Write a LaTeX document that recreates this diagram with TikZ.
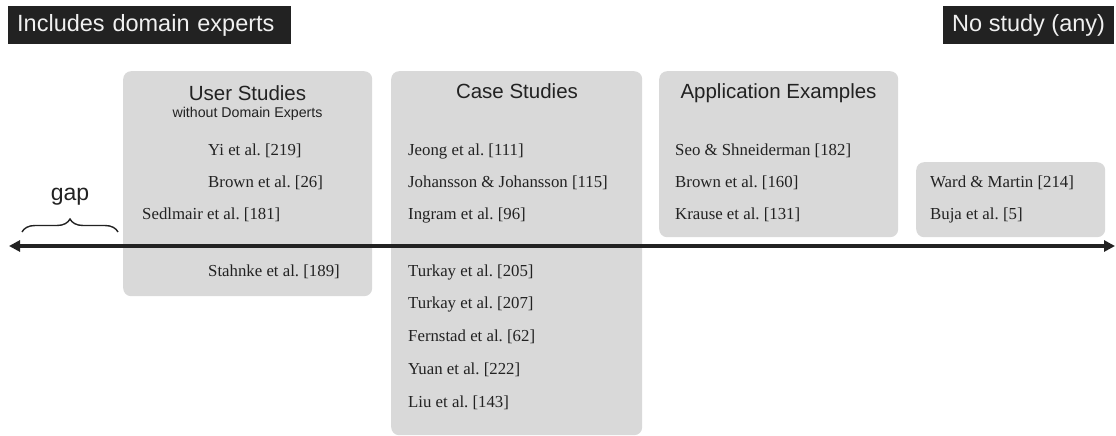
\documentclass[tikz,border=0pt]{standalone}
\usepackage{fontspec}
\setmainfont{Liberation Serif}
\newfontfamily\headfont{Liberation Sans}
\usetikzlibrary{arrows.meta,decorations.pathreplacing}
\frenchspacing

\definecolor{boxgray}{HTML}{D9D9D9}
\definecolor{ink}{HTML}{222222}
\definecolor{paper}{HTML}{F0F0F0}

\begin{document}
\begin{tikzpicture}[x=1pt,y=-1pt,
  group/.style={fill=boxgray, rounded corners=8pt, draw=none, anchor=north west, inner sep=0pt},
  head/.style={font=\headfont\fontsize{20.5}{24}\selectfont, text=ink, anchor=base, inner sep=0pt},
  subhead/.style={font=\headfont\fontsize{14.2}{17}\selectfont, text=ink, anchor=base, inner sep=0pt},
  ref/.style={font=\fontsize{16.8}{20}\selectfont, text=ink, anchor=base west, inner sep=0pt},
  tag/.style={fill=ink, text=paper, font=\headfont\fontsize{23.5}{28}\selectfont,
    anchor=north west, minimum height=38pt, inner ysep=0pt, inner xsep=9pt},
  axis/.style={draw=ink, line width=3.5pt,
    {Triangle[length=11pt,width=11pt]}-{Triangle[length=11pt,width=11pt]}},
  bracket/.style={draw=ink, line width=1.4pt,
    decorate, decoration={brace, amplitude=13pt}},
]
\useasboundingbox (0,0) rectangle (1116,436);

% category labels at both ends of the scale
\node[tag, text width=265pt, align=left] (expert) at (8,6) {Includes domain experts};
\node[tag, minimum width=168pt] (nostudy) at (943,6) {No study (any)};

% grey groups
\node[group, minimum width=249pt, minimum height=225pt] (users) at (123,71) {};
\node[group, minimum width=251pt, minimum height=364pt] (cases) at (391,71) {};
\node[group, minimum width=239pt, minimum height=166pt] (apps) at (659,71) {};
\node[group, minimum width=189pt, minimum height=75pt] (none) at (916,162) {};

% group titles
\node[head] (usersT) at (247.5,100) {User Studies};
\node[subhead] (usersS) at (247.5,117) {without Domain Experts};
\node[head] (casesT) at (517,98) {Case Studies};
\node[head] (appsT) at (778.5,98) {Application Examples};

% user studies
\node[ref] (yi) at (208,155) {Yi et al. [219]};
\node[ref] (brown) at (208,187) {Brown et al. [26]};
\node[ref] (sedlmair) at (142,219) {Sedlmair et al. [181]};
\node[ref] (stahnke) at (208,276) {Stahnke et al. [189]};

% case studies
\node[ref] (jeong) at (408,155) {Jeong et al. [111]};
\node[ref] (johansson) at (408,187) {Johansson \& Johansson [115]};
\node[ref] (ingram) at (408,219) {Ingram et al. [96]};
\node[ref] (turkayA) at (408,276) {Turkay et al. [205]};
\node[ref] (turkayB) at (408,308) {Turkay et al. [207]};
\node[ref] (fernstad) at (408,341) {Fernstad et al. [62]};
\node[ref] (yuan) at (408,374) {Yuan et al. [222]};
\node[ref] (liu) at (408,407) {Liu et al. [143]};

% application examples
\node[ref] (seo) at (675,155) {Seo \& Shneiderman [182]};
\node[ref] (brownB) at (675,187) {Brown et al. [160]};
\node[ref] (krause) at (675,219) {Krause et al. [131]};

% no study
\node[ref] (ward) at (930,187) {Ward \& Martin [214]};
\node[ref] (buja) at (930,219) {Buja et al. [5]};

% the scale
\coordinate (left) at (9,246);
\coordinate (right) at (1115,246);
\draw[axis] (left) -- (right);

% gap marker
\coordinate (gapA) at (22,232);
\coordinate (gapB) at (118,232);
\draw[bracket] (gapA) -- (gapB);
\node[font=\headfont\fontsize{23}{27}\selectfont, text=ink, anchor=base, inner sep=0pt] (gap) at (70,200) {gap};
\end{tikzpicture}
\end{document}
